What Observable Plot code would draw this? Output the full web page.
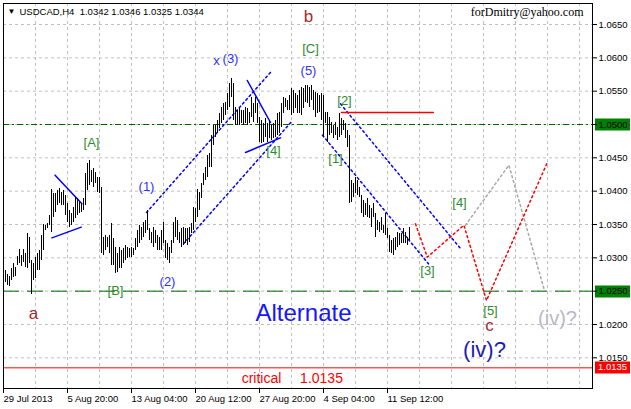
<!DOCTYPE html>
<html><head><meta charset="utf-8">
<script src="https://cdn.jsdelivr.net/npm/d3@7"></script>
<script src="https://cdn.jsdelivr.net/npm/@observablehq/plot@0.6"></script>
<style>
html,body{margin:0;padding:0;background:#fff;}
#chart{position:relative;width:631px;height:409px;overflow:hidden;}
svg{display:block;}
</style></head><body><div id="chart"></div>
<script>
// H4 bar highs and lows (bar index 0 .. 202)
const highs = [
1.0281,1.0275,1.0272,1.0284,1.0292,1.0286,1.0302,1.0313,1.0304,1.0313,
1.0307,1.0337,1.0331,1.0296,1.0292,1.0301,1.0307,1.0311,1.0334,1.0350,
1.0349,1.0352,1.0364,1.0403,1.0397,1.0397,1.0401,1.0404,1.0398,1.0401,
1.0394,1.0382,1.0371,1.0367,1.0376,1.0391,1.0389,1.0383,1.0382,1.0389,
1.0427,1.0442,1.0446,1.0431,1.0434,1.0428,1.0421,1.0421,1.0406,1.0331,
1.0334,1.0331,1.0334,1.0352,1.0329,1.0316,1.0307,1.0316,1.0311,1.0314,
1.0319,1.0316,1.0314,1.0316,1.0314,1.0329,1.0341,1.0349,1.0346,1.0353,
1.0356,1.0371,1.0344,1.0338,1.0346,1.0341,1.0334,1.0331,1.0341,1.0353,
1.0326,1.0322,1.0316,1.0326,1.0353,1.0361,1.0356,1.0338,1.0344,1.0346,
1.0344,1.0344,1.0346,1.0352,1.0376,1.0374,1.0403,1.0398,1.0412,1.0427,
1.0436,1.0454,1.0457,1.0484,1.0499,1.0499,1.0506,1.0517,1.0526,1.0532,
1.0533,1.0547,1.0562,1.0569,1.0562,1.0526,1.0521,1.0524,1.0521,1.0521,
1.0526,1.0524,1.0518,1.0541,1.0532,1.0541,1.0532,1.0511,1.0506,1.0502,
1.0509,1.0502,1.0506,1.0499,1.0502,1.0506,1.0517,1.0518,1.0532,1.0541,
1.0539,1.0536,1.0544,1.0554,1.0551,1.0547,1.0544,1.0551,1.0556,1.0554,
1.0559,1.0559,1.0556,1.0559,1.0551,1.0548,1.0547,1.0544,1.0547,1.0544,
1.0518,1.0518,1.0511,1.0503,1.0499,1.0503,1.0496,1.0517,1.0509,1.0506,
1.0502,1.0491,1.0484,1.0416,1.0412,1.0421,1.0416,1.0406,1.0394,1.0386,
1.0382,1.0389,1.0379,1.0374,1.0382,1.0367,1.0356,1.0353,1.0361,1.0349,
1.0367,1.0344,1.0334,1.0326,1.0329,1.0331,1.0338,1.0337,1.0337,1.0344,
1.0338,1.0331,1.0346];
const lows = [
1.0263,1.0259,1.0257,1.0266,1.0271,1.0272,1.0289,1.0292,1.0287,1.0293,
1.0286,1.0284,1.0292,1.0245,1.0266,1.0269,1.0281,1.0281,1.0296,1.0311,
1.0341,1.0344,1.0349,1.0338,1.0361,1.0368,1.0379,1.0382,1.0379,1.0379,
1.0364,1.0353,1.0346,1.0349,1.0353,1.0359,1.0364,1.0367,1.0368,1.0371,
1.0379,1.0401,1.0409,1.0413,1.0406,1.0412,1.0398,1.0397,1.0307,1.0304,
1.0311,1.0316,1.0307,1.0289,1.0289,1.0277,1.0278,1.0284,1.0284,1.0292,
1.0296,1.0299,1.0301,1.0301,1.0304,1.0311,1.0316,1.0322,1.0326,1.0331,
1.0337,1.0341,1.0326,1.0322,1.0316,1.0322,1.0311,1.0311,1.0311,1.0322,
1.0299,1.0296,1.0292,1.0307,1.0322,1.0331,1.0326,1.0322,1.0316,1.0319,
1.0322,1.0319,1.0323,1.0337,1.0341,1.0353,1.0361,1.0371,1.0389,1.0409,
1.0416,1.0421,1.0436,1.0436,1.0469,1.0481,1.0487,1.0494,1.0502,1.0506,
1.0514,1.0521,1.0526,1.0541,1.0506,1.0499,1.0499,1.0499,1.0502,1.0499,
1.0502,1.0499,1.0502,1.0511,1.0503,1.0517,1.0502,1.0473,1.0472,1.0473,
1.0481,1.0473,1.0479,1.0476,1.0479,1.0481,1.0484,1.0487,1.0496,1.0517,
1.0526,1.0521,1.0521,1.0514,1.0517,1.0524,1.0517,1.0517,1.0514,1.0524,
1.0533,1.0532,1.0526,1.0536,1.0521,1.0511,1.0517,1.0518,1.0506,1.0481,
1.0502,1.0473,1.0484,1.0487,1.0479,1.0484,1.0476,1.0481,1.0484,1.0491,
1.0479,1.0466,1.0381,1.0383,1.0391,1.0397,1.0394,1.0391,1.0367,1.0361,
1.0364,1.0361,1.0359,1.0346,1.0361,1.0331,1.0341,1.0338,1.0341,1.0337,
1.0334,1.0329,1.0308,1.0307,1.0304,1.0311,1.0316,1.0319,1.0322,1.0322,
1.0322,1.0319,1.0326];

const header = "USDCAD,H4  1.0342 1.0346 1.0325 1.0344";
const signature = "forDmitry@yahoo.com";

// axis ticks
const yTicks = [1.015,1.020,1.025,1.030,1.035,1.040,1.045,1.050,1.055,1.060,1.065];
const xTickIdx = [-1,31,63,95,127,159,191];
const xTickLabels = ["29 Jul 2013","5 Aug 20:00","13 Aug 04:00","20 Aug 12:00","27 Aug 20:00","4 Sep 04:00","11 Sep 12:00"];
const xGridIdx = d3.range(15, 294, 16);

// horizontal levels
const level1050 = 1.0500;
const level1025 = 1.0250;
const criticalLevel = 1.0135;

// trend lines [bar index, price]
const triUpper = [[24.8,1.0424],[38.2,1.0381]];
const triLower = [[23.2,1.0330],[37.9,1.0346]];
const chanUpper = [[70.5,1.0368],[133.0,1.0580]];
const chanLower = [[89.0,1.0321],[143.5,1.0506]];
const wedgeUpper = [[120.9,1.0566],[132.5,1.0503]];
const wedgeLower = [[120.0,1.0458],[137.5,1.0480]];
const downUpper = [[167.5,1.0531],[227.5,1.0314]];
const downLower = [[158.5,1.0484],[211.5,1.0291]];
const redLevel = [[168.0,1.0518],[213.9,1.0518]];
const redPath = [[205.0,1.0351],[210.9,1.0301],[229.2,1.0349],[240.5,1.0236],[270.9,1.0443]];
const grayPath = [[230.0,1.0349],[251.7,1.0439],[269.2,1.0254]];

// wave labels [text, bar index, price]
const greenLabels = [["[A]",43,1.0473],["[B]",55,1.0251],["[C]",152.5,1.0614],["[4]",134,1.0461],
  ["[1]",165,1.0449],["[2]",169.5,1.0536],["[3]",211,1.0280],["[4]",227,1.0382],["[5]",242.5,1.0221]];
const blueLabels = [["(1)",70.5,1.0406],["(2)",81,1.0264],["x",105.5,1.0596],["(3)",112.5,1.0599],["(5)",151.5,1.0581]];
const brownLabels = [["a",14,1.0217],["b",151.5,1.0662],["c",242,1.0198]];
const bigBlue = [["(iv)?",239.5,1.0162]];
const grayLabel = [["(iv)?",276,1.0209]];
const altLabel = [["Alternate",149,1.0217]];
const critLabels = [["critical",128,1.0119],["1.0135",158,1.0119]];

const bars = highs.map((h, i) => ({i, high: h, low: lows[i]}));
const pts = arr => arr.map(([i, p]) => ({i, p}));
const lbl = arr => arr.map(([t, i, p]) => ({t, i, p}));
const labelMap = new Map(xTickIdx.map((d, k) => [d, xTickLabels[k]]));

const F = "Liberation Sans, Arial, sans-serif";
const dotted = "2,3";

const chart = Plot.plot({
  width: 631, height: 409,
  marginLeft: 3, marginRight: 39, marginTop: 3, marginBottom: 21,
  style: {fontFamily: F, background: "#fff", overflow: "visible"},
  x: {type: "linear", domain: [-1, 293.5], label: null},
  y: {type: "linear", domain: [1.0104, 1.06815], label: null},
  marks: [
    Plot.gridY(yTicks, {stroke: "#c0c0c0", strokeOpacity: 1, strokeDasharray: "3,3"}),
    Plot.gridX(xGridIdx, {stroke: "#c0c0c0", strokeOpacity: 1, strokeDasharray: "3,3"}),
    Plot.ruleY([level1050], {stroke: "#006400", strokeDasharray: "6,3,2,3"}),
    Plot.ruleY([level1025], {stroke: "#006400", strokeDasharray: "16,8"}),
    Plot.ruleY([criticalLevel], {stroke: "#ff0000"}),
    Plot.line(pts(triUpper), {x: "i", y: "p", stroke: "#0000ff"}),
    Plot.line(pts(triLower), {x: "i", y: "p", stroke: "#0000ff"}),
    Plot.line(pts(wedgeUpper), {x: "i", y: "p", stroke: "#0000ff"}),
    Plot.line(pts(wedgeLower), {x: "i", y: "p", stroke: "#0000ff"}),
    Plot.line(pts(chanUpper), {x: "i", y: "p", stroke: "#0000ff", strokeDasharray: dotted}),
    Plot.line(pts(chanLower), {x: "i", y: "p", stroke: "#0000ff", strokeDasharray: dotted}),
    Plot.line(pts(downUpper), {x: "i", y: "p", stroke: "#0000ff", strokeDasharray: dotted}),
    Plot.line(pts(downLower), {x: "i", y: "p", stroke: "#0000ff", strokeDasharray: dotted}),
    Plot.line(pts(redLevel), {x: "i", y: "p", stroke: "#ff0000"}),
    Plot.line(pts(grayPath), {x: "i", y: "p", stroke: "#a8a8a8", strokeDasharray: dotted}),
    Plot.line(pts(redPath), {x: "i", y: "p", stroke: "#ff0000", strokeDasharray: dotted}),
    Plot.ruleX(bars, {x: "i", y1: "low", y2: "high", stroke: "#000", strokeWidth: 1, shapeRendering: "crispEdges"}),
    Plot.text(lbl(greenLabels), {x: "i", y: "p", text: "t", fill: "#2e8b2e", fontSize: 13}),
    Plot.text(lbl(blueLabels), {x: "i", y: "p", text: "t", fill: "#3030ff", fontSize: 13}),
    Plot.text(lbl(brownLabels), {x: "i", y: "p", text: "t", fill: "#a52a2a", fontSize: 17}),
    Plot.text(lbl(bigBlue), {x: "i", y: "p", text: "t", fill: "#1c1cb4", fontSize: 22}),
    Plot.text(lbl(grayLabel), {x: "i", y: "p", text: "t", fill: "#b8b8c8", fontSize: 20}),
    Plot.text(lbl(altLabel), {x: "i", y: "p", text: "t", fill: "#1515ff", fontSize: 24}),
    Plot.text(lbl(critLabels), {x: "i", y: "p", text: "t", fill: "#ff0000", fontSize: 14}),
    Plot.text([header], {frameAnchor: "top-left", text: d => d, dx: 16, dy: 5, fontSize: 9.5, fill: "#000"}),
    Plot.text(["\u25BC"], {frameAnchor: "top-left", text: d => d, dx: 4, dy: 5, fontSize: 8, fill: "#000"}),
    Plot.text([signature], {frameAnchor: "top-right", text: d => d, dx: -9, dy: 4, fontSize: 12, fill: "#000", fontFamily: "Liberation Serif, Times New Roman, serif"}),
    Plot.axisX(xTickIdx, {tickFormat: d => labelMap.get(d), textAnchor: "start", tickSize: 5, tickPadding: 2, fontSize: 9.5, stroke: "#000", fill: "#000", label: null}),
    Plot.axisY(yTicks, {anchor: "right", tickSize: 4, tickPadding: 2, tickFormat: d3.format(".4f"), fontSize: 9.5, fill: "#000", label: null}),
    Plot.frame({stroke: "#000"})
  ]
});
document.getElementById("chart").appendChild(chart);

// price labels in the right margin, positioned through the chart's own scales
const ys = chart.scale("y"), xs = chart.scale("x");
const svg = d3.select(chart);
const xr = xs.range[1];
for (const v of [level1050, level1025]) {
  svg.insert("rect", ":first-child").attr("x", xr + 3).attr("y", Math.round(ys.apply(v)) - 5.5)
    .attr("width", 35).attr("height", 12).attr("fill", "#008000");
}
const cy = ys.apply(criticalLevel);
svg.append("rect").attr("x", xr + 3).attr("y", Math.round(cy) - 5.5).attr("width", 35).attr("height", 12).attr("fill", "#ff0000");
svg.append("text").attr("x", xr + 6).attr("y", cy).attr("dy", "0.32em").attr("fill", "#fff")
  .attr("text-anchor", "start").attr("font-size", 9.5).attr("font-family", F)
  .text(d3.format(".4f")(criticalLevel));
</script></body></html>
